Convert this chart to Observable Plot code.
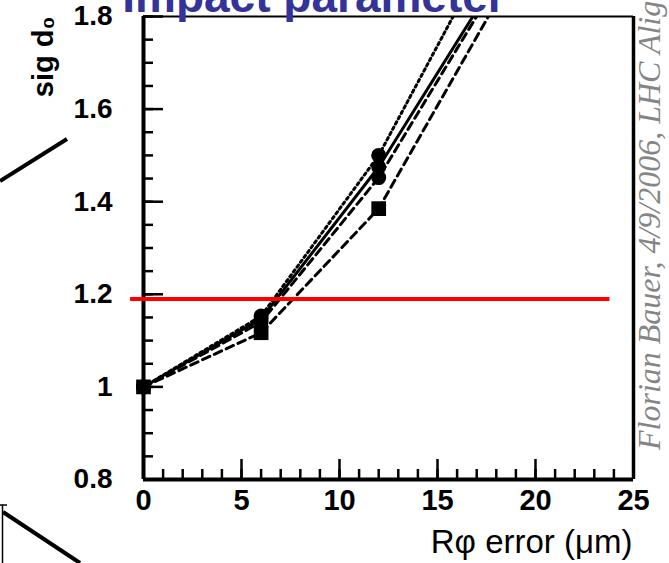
<!DOCTYPE html>
<html><head><meta charset="utf-8">
<script src="https://cdn.jsdelivr.net/npm/d3@7"></script>
<script src="https://cdn.jsdelivr.net/npm/@observablehq/plot@0.6"></script>
<style>
html,body{margin:0;padding:0;background:#fff;overflow:hidden;}
#wrap{position:relative;width:669px;height:563px;overflow:hidden;background:#fff;}
#chart{position:absolute;left:0;top:0;}
#overlay{position:absolute;left:0;top:0;}
</style></head>
<body>
<div id="wrap"><div id="chart"></div>
<svg id="overlay" width="669" height="563" xmlns="http://www.w3.org/2000/svg">
  <text x="314" y="12" text-anchor="middle" font-family="Liberation Sans, Arial, sans-serif" font-weight="bold" font-size="46" fill="#333399">Impact parameter</text>
  <text transform="translate(660,450) rotate(-90)" font-family="Liberation Serif, Times New Roman, serif" font-style="italic" font-size="32" fill="#858585">Florian Bauer, 4/9/2006, LHC Alignment</text>
  <line x1="0" y1="181" x2="67" y2="139" stroke="#000" stroke-width="4"/>
  <line x1="2.5" y1="505" x2="2.5" y2="563" stroke="#000" stroke-width="1.5"/>
  <line x1="0" y1="505" x2="7" y2="505" stroke="#000" stroke-width="1.5"/>
  <line x1="3" y1="512" x2="80" y2="563" stroke="#000" stroke-width="4"/>
</svg>
</div>
<script>
// ---- data ----
const xErr = [0, 6, 12, 18];
const sigDotted = [1.00, 1.153, 1.500, 1.974];
const sigSolid = [1.00, 1.147, 1.475, 1.881];
const sigDashCircle = [1.00, 1.140, 1.452, 1.870];
const sigDashSquare = [1.00, 1.117, 1.385, 1.830];
const yTicks = [0.8, 1, 1.2, 1.4, 1.6, 1.8];
const yTickLabels = ["0.8", "1", "1.2", "1.4", "1.6", "1.8"];
const xTicks = [0, 5, 10, 15, 20, 25];
const xTickLabels = ["0", "5", "10", "15", "20", "25"];
const threshold = [{y: 1.19, x1: -0.66, x2: 23.8}];
const yLabel = ["sig d\u2080"];
const xLabel = ["R\u03C6 error (\u03BCm)"];

const yMinor = d3.range(16, 37).map(i => +(i * 0.05).toFixed(2));
const xMinor = d3.range(0, 26);

const series = [
  {name: "dotted", values: sigDotted, dash: "2.5,3.5", symbol: "circle"},
  {name: "solid", values: sigSolid, dash: null, symbol: "circle"},
  {name: "dashCircle", values: sigDashCircle, dash: "8,5", symbol: "circle"},
  {name: "dashSquare", values: sigDashSquare, dash: "8,5", symbol: "square"}
];
const rows = series.flatMap(s => xErr.map((x, i) => ({series: s.name, symbol: s.symbol, x, y: s.values[i]})));

const W = 669, H = 563, mL = 143, mR = 36, mT = 16, mB = 84;
const plotW = W - mL - mR, plotH = H - mT - mB;
const font = "Liberation Sans, Arial, sans-serif";

const lineMarks = series.map(s => Plot.line(rows.filter(r => r.series === s.name), {
  x: "x", y: "y", stroke: "black", strokeWidth: 3, strokeDasharray: s.dash, clip: true
}));

const chart = Plot.plot({
  width: W, height: H,
  marginLeft: mL, marginRight: mR, marginTop: mT, marginBottom: mB,
  style: {fontFamily: font, background: "transparent", color: "black"},
  x: {domain: [0, 25], axis: null},
  y: {domain: [0.8, 1.8], axis: null},
  marks: [
    Plot.tickY(yMinor, {y: d => d, insetRight: plotW - 10, stroke: "black", strokeWidth: 2.5}),
    Plot.tickY(yTicks, {y: d => d, insetRight: plotW - 20, stroke: "black", strokeWidth: 2.5}),
    Plot.tickX(xMinor, {x: d => d, insetTop: plotH - 10, stroke: "black", strokeWidth: 2.5}),
    Plot.tickX(xTicks, {x: d => d, insetTop: plotH - 20, stroke: "black", strokeWidth: 2.5}),
    Plot.ruleY([1.8], {stroke: "black", strokeWidth: 2}),
    Plot.ruleX([25], {stroke: "black", strokeWidth: 3.5}),
    Plot.ruleX([0], {stroke: "black", strokeWidth: 4}),
    Plot.ruleY([0.8], {stroke: "black", strokeWidth: 4}),
    ...lineMarks,
    Plot.dot(rows.filter(r => r.symbol === "circle" && r.y <= 1.8), {x: "x", y: "y", r: 7.5, fill: "black", stroke: "none"}),
    Plot.dot(rows.filter(r => r.symbol === "square" && r.y <= 1.8), {x: "x", y: "y", r: 8.3, symbol: "square", fill: "black", stroke: "none"}),
    Plot.ruleY(threshold, {y: "y", x1: "x1", x2: "x2", stroke: "#ff0000", strokeWidth: 4}),
    Plot.text(yTicks, {y: d => d, text: (d, i) => yTickLabels[i], frameAnchor: "left", dx: -31, textAnchor: "end", fontSize: 28, fontWeight: "bold", fill: "black"}),
    Plot.text(xTicks, {x: d => d, text: (d, i) => xTickLabels[i], frameAnchor: "bottom", dy: 30, fontSize: 29, fontWeight: "bold", fill: "black"}),
    Plot.text(xLabel, {text: d => d, frameAnchor: "bottom-right", textAnchor: "end", dy: 73, dx: -1, fontSize: 33, fill: "black"}),
    Plot.text(yLabel, {text: d => d, frameAnchor: "top-left", rotate: -90, textAnchor: "end", dx: -111, dy: 0, fontSize: 29, fontWeight: "bold", fill: "black"})
  ]
});
document.getElementById("chart").appendChild(chart);
</script>
</body></html>
